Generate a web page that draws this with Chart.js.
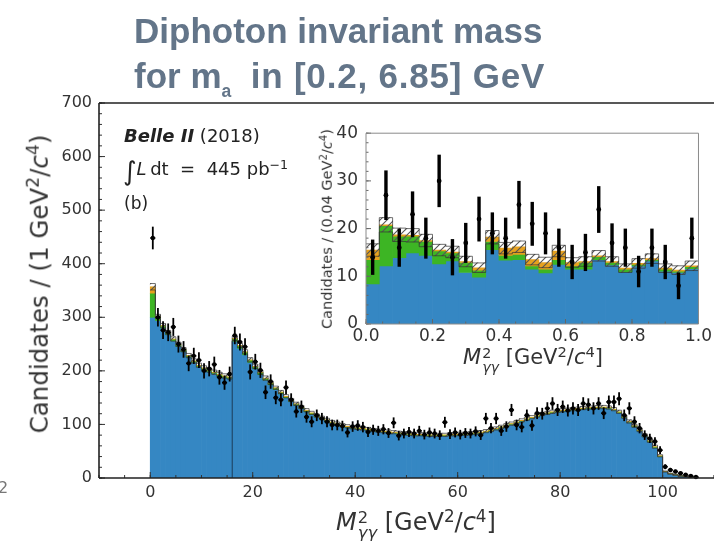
<!DOCTYPE html>
<html>
<head>
<meta charset="utf-8">
<script src="https://cdn.jsdelivr.net/npm/chart.js@4.4.1/dist/chart.umd.min.js"></script>
<style>
html,body{margin:0;padding:0;width:714px;height:542px;overflow:hidden;background:#fff;font-family:'DejaVu Sans',sans-serif;}
#wrap{position:relative;width:714px;height:542px;overflow:hidden;}
#main{position:absolute;left:0;top:0;}
#inset{position:absolute;left:310px;top:115px;}
.t{position:absolute;white-space:nowrap;color:#333;line-height:1;}
.t sup{font-size:0.7em;vertical-align:0.5em;line-height:0;}
.title{position:absolute;white-space:nowrap;font-family:'Liberation Sans',sans-serif;font-weight:bold;font-size:35px;line-height:1;color:#637589;}
.title sub{font-size:0.5em;vertical-align:-0.5em;line-height:0;}
.ss{display:inline-flex;flex-direction:column;font-size:0.68em;line-height:0.95;vertical-align:0.45em;margin-left:1px;text-align:left;}
</style>
</head>
<body>
<div id="wrap">
<canvas id="main" width="760" height="542"></canvas>
<canvas id="inset" width="404" height="265"></canvas>

<div class="title" style="left:134px;top:13px;">Diphoton invariant mass</div>
<div class="title" style="left:134px;top:58px;">for m<sub>a</sub>&nbsp; <span style="letter-spacing:0.8px;">in [0.2, 6.85] GeV</span></div>

<div class="t" style="left:124px;top:127px;font-size:18px;color:#222;"><b><i>Belle II</i></b> (2018)</div>
<div class="t" style="left:123px;top:158px;font-size:18px;color:#222;"><span style="font-size:26px;vertical-align:-5px;">∫</span><i>L</i>&thinsp;dt&nbsp; = &nbsp;445 pb<sup>−1</sup></div>
<div class="t" style="left:124px;top:195px;font-size:17px;color:#222;">(b)</div>

<div class="t" style="left:40px;top:284px;font-size:24.5px;transform:translate(-50%,-50%) rotate(-90deg);">Candidates / (1 GeV<sup>2</sup>/<i>c</i><sup>4</sup>)</div>
<div class="t" style="left:416px;top:510px;font-size:24px;transform:translateX(-50%);"><i>M</i><span class="ss"><span>2</span><span><i>γγ</i></span></span> [GeV<sup>2</sup>/<i>c</i><sup>4</sup>]</div>

<div class="t" style="left:327px;top:229px;font-size:14.5px;transform:translate(-50%,-50%) rotate(-90deg);">Candidates / (0.04 GeV<sup>2</sup>/<i>c</i><sup>4</sup>)</div>
<div class="t" style="left:533px;top:347px;font-size:21px;transform:translateX(-50%);"><i>M</i><span class="ss"><span>2</span><span><i>γγ</i></span></span> [GeV<sup>2</sup>/<i>c</i><sup>4</sup>]</div>

<div class="t" style="left:-2px;top:480px;font-size:16px;color:#777;">2</div>
</div>

<script>
// ---- main histogram, 1 GeV^2 bins starting at 0 ----
const mainBinWidth = 1;
const mainBlue = [
  300, 294, 280, 268, 256, 246, 236, 226, 216, 208,
  203, 199, 195, 191, 188, 186, 255, 242, 230, 216,
  204, 193, 183, 174, 165, 157, 150, 143, 136, 130,
  124, 119, 114, 110, 106, 103, 100, 97, 95, 93,
  92, 91, 90, 88, 87, 86, 85, 84, 83, 82,
  81, 80, 80, 80, 79, 79, 79, 79, 80, 80,
  81, 81, 82, 83, 84, 86, 88, 91, 94, 97,
  100, 103, 106, 109, 112, 115, 118, 120, 122, 124,
  125, 126, 127, 128, 129, 130, 130, 131, 131, 130,
  127, 122, 113, 104, 96, 88, 78, 68, 57, 40,
  12, 8, 6, 4, 3, 2, 1
];
const mainGreen = [
  45, 6, 4, 3, 3, 3, 3, 2, 2, 2,
  2, 2, 2, 2, 2, 2, 5, 5, 5, 4,
  4, 4, 3, 3, 3, 3, 2, 2, 2, 2,
  2, 2, 2, 2, 2, 1, 1, 1, 1, 1,
  1, 1, 1, 1, 1, 1, 1, 1, 1, 1,
  1, 1, 1, 1, 1, 1, 1, 1, 1, 1,
  1, 1, 1, 1, 1, 1, 1, 1, 1, 1,
  1, 1, 1, 1, 1, 1, 1, 1, 1, 1,
  1, 1, 1, 1, 1, 1, 1, 1, 1, 1,
  1, 1, 1, 1, 1, 1, 1, 1, 1, 1,
  0, 0, 0, 0, 0, 0, 0
];
const mainOrange = [
  12, 1.5, 0.5, 0.5, 0.5, 0.5, 0.5, 0.5, 0.5, 0.5,
  0.5, 0.5, 0.5, 0.5, 0.5, 0.5, 0.5, 0.5, 0.5, 0.5,
  0.5, 0.5, 0.5, 0.5, 0.5, 0.5, 0.5, 0.5, 0.5, 0.5,
  0.5, 0.5, 0.5, 0.5, 0.5, 0.5, 0.5, 0.5, 0.5, 0.5,
  0.5, 0.5, 0.5, 0.5, 0.5, 0.5, 0.5, 0.5, 0.5, 0.5,
  0.5, 0.5, 0.5, 0.5, 0.5, 0.5, 0.5, 0.5, 0.5, 0.5,
  0.5, 0.5, 0.5, 0.5, 0.5, 0.5, 0.5, 0.5, 0.5, 0.5,
  0.5, 0.5, 0.5, 0.5, 0.5, 0.5, 0.5, 0.5, 0.5, 0.5,
  0.5, 0.5, 0.5, 0.5, 0.5, 0.5, 0.5, 0.5, 0.5, 0.5,
  0.5, 0.5, 0.5, 0.5, 0.5, 0.5, 0.5, 0.5, 0.5, 0.5,
  0, 0, 0, 0, 0, 0, 0
];
const mainUnc = [
  6, 4, 4, 4, 4, 4, 4, 4, 4, 4,
  4, 4, 4, 4, 4, 4, 4, 4, 4, 4,
  4, 4, 4, 3, 3, 3, 3, 3, 3, 3,
  3, 3, 3, 3, 3, 3, 3, 3, 3, 3,
  3, 3, 3, 3, 3, 3, 3, 3, 3, 3,
  3, 3, 3, 3, 3, 3, 3, 3, 3, 3,
  3, 3, 3, 3, 3, 3, 3, 3, 3, 3,
  3, 3, 3, 3, 3, 3, 3, 3, 3, 3,
  3, 3, 3, 3, 3, 3, 3, 3, 3, 3,
  3, 3, 3, 3, 3, 3, 3, 3, 3, 2,
  1, 1, 1, 1, 0.5, 0.5, 0.5
];
const mainData = [
  448, 300, 276, 272, 282, 250, 240, 214, 228, 220,
  200, 204, 212, 188, 178, 194, 266, 254, 245, 198,
  217, 201, 160, 180, 150, 146, 169, 146, 124, 133,
  114, 105, 117, 111, 105, 99, 99, 97, 85, 96,
  98, 95, 86, 90, 88, 91, 84, 103, 79, 83,
  86, 83, 88, 81, 85, 83, 80, 104, 82, 85,
  81, 84, 83, 87, 80, 111, 93, 111, 88, 96,
  127, 99, 95, 117, 98, 121, 120, 130, 139, 127,
  133, 126, 130, 127, 139, 137, 130, 139, 121, 142,
  142, 148, 117, 130, 105, 93, 80, 74, 68, 52,
  21, 15, 12, 9, 6, 4, 2
];
const blueSplit = 16;                 // edge between the two blue pieces
const mainXTicks = [0, 20, 40, 60, 80, 100];
const mainYTicks = [0, 100, 200, 300, 400, 500, 600, 700];

// ---- inset, 0.04 GeV^2 bins from 0 to 1 ----
const insetBinWidth = 0.04;
const insetBlue   = [8.4, 12.2, 13.9, 14.9, 14.4, 12.6, 13.2, 10.8, 9.8, 15.6, 13.4, 13.5, 11.5, 10.7, 12.5, 11.5, 11.5, 13.5, 12.4, 10.9, 12.2, 13.2, 11.1, 10.8, 11.6];
const insetGreen  = [5.1, 8.4, 4.5, 3.5, 2.9, 2.7, 1.7, 2.1, 1.5, 1.7, 1.0, 1.1, 0.7, 0.8, 1.0, 0.7, 1.4, 0.6, 0.5, 0.6, 0.3, 0.3, 0.4, 0.3, 0.4];
const insetOrange = [2.0, 0.2, 0.3, 0.2, 0.2, 0.2, 0.2, 0.2, 0.5, 0.9, 1.5, 1.6, 1.3, 1.4, 1.8, 0.7, 0.2, 0.2, 0.2, 0.2, 0.2, 0.2, 0.2, 0.2, 0.2];
const insetUnc    = [1.3, 1.5, 1.4, 1.4, 1.3, 1.2, 1.2, 1.1, 1.0, 1.4, 1.2, 1.2, 1.1, 1.1, 1.2, 1.0, 1.0, 1.1, 1.0, 0.9, 1.0, 1.0, 0.9, 0.9, 1.0];
const insetData   = [14, 27, 16, 23, 18, 30, 14, 17, 22, 19, 18, 25, 21, 19, 16, 13, 15, 24, 17, 16, 11, 16, 13, 8, 18];
const insetErr    = [3.7, 5.2, 4.0, 4.8, 4.3, 5.5, 3.8, 4.2, 4.7, 4.4, 4.3, 5.0, 4.6, 4.4, 4.0, 3.6, 3.9, 4.9, 4.1, 4.0, 3.3, 4.0, 3.6, 2.8, 4.3];
const insetXTicks = [0, 0.2, 0.4, 0.6, 0.8, 1.0];
const insetYTicks = [0, 10, 20, 30, 40];

const BLUE = '#3587c3', GREEN = '#3db524', ORANGE = '#e6a11e';
const FONT = 'DejaVu Sans';

function hatch(color) {
  const s = 7, c = document.createElement('canvas');
  c.width = c.height = s;
  const g = c.getContext('2d');
  g.strokeStyle = color; g.lineWidth = 1.1;
  g.beginPath();
  g.moveTo(0, s); g.lineTo(s, 0);
  g.moveTo(-s, s); g.lineTo(s, -s);
  g.moveTo(0, 2 * s); g.lineTo(2 * s, 0);
  g.stroke();
  return g.createPattern(c, 'repeat');
}

// histogram values -> points at bin edges for a stepped outline
function steps(vals, w) {
  const pts = vals.map((v, i) => ({ x: i * w, y: v }));
  pts.push({ x: vals.length * w, y: vals[vals.length - 1] });
  return pts;
}
const add = (a, b) => a.map((v, i) => v + b[i]);

function histDatasets(blue, green, orange, unc, data, err, w, errStyle) {
  const s2 = add(blue, green), s3 = add(s2, orange);
  const hi = s3.map((v, i) => v + unc[i]), lo = s3.map((v, i) => Math.max(0, v - unc[i]));
  const mid = i => (i + 0.5) * w;
  const bar = (from, to, color, order) => ({
    type: 'bar', order: order, grouped: false, barPercentage: 1, categoryPercentage: 1,
    borderWidth: 0, backgroundColor: color,
    data: to.map((v, i) => ({ x: mid(i), y: [from ? from[i] : 0, v] }))
  });
  // 'before': each edge point keeps its own value until the next edge
  const outline = vals => ({ type: 'line', data: steps(vals, w), stepped: 'before', fill: false,
    pointRadius: 0, borderColor: '#333', borderWidth: 0.7, order: 4 });
  return [
    bar(null, blue, BLUE, 10),
    bar(blue, s2, GREEN, 9),
    bar(s2, s3, ORANGE, 8),
    bar(lo, hi, hatch('#555'), 7),
    outline(hi),
    outline(lo),
    { type: 'line', data: data.map((v, i) => ({ x: mid(i), y: v })), showLine: false, fill: false,
      pointRadius: 0, errs: err, errStyle: errStyle, order: 0 }
  ];
}

const errBars = {
  id: 'errBars',
  afterDatasetsDraw(chart) {
    const { ctx, scales: { x, y } } = chart;
    chart.data.datasets.forEach(ds => {
      if (!ds.errs) return;
      const st = ds.errStyle;
      ctx.save();
      ctx.strokeStyle = '#000';
      ctx.fillStyle = '#000';
      ds.data.forEach((p, i) => {
        const e = ds.errs[i], px = x.getPixelForValue(p.x), py = y.getPixelForValue(p.y);
        ctx.lineWidth = st.lw;
        ctx.beginPath();
        ctx.moveTo(px, y.getPixelForValue(Math.max(0, p.y - e)));
        ctx.lineTo(px, y.getPixelForValue(p.y + e));
        ctx.stroke();
        if (st.halfW) {
          ctx.lineWidth = st.hlw;
          ctx.beginPath();
          ctx.moveTo(x.getPixelForValue(p.x - st.halfW), py);
          ctx.lineTo(x.getPixelForValue(p.x + st.halfW), py);
          ctx.stroke();
        }
        ctx.beginPath(); ctx.arc(px, py, st.r, 0, Math.PI * 2); ctx.fill();
      });
      ctx.restore();
    });
  }
};

// frame, inward ticks, extra edge line
const frame = {
  id: 'frame',
  afterDraw(chart, args, o) {
    const { ctx, chartArea: a, scales: { x, y } } = chart;
    ctx.save();
    ctx.strokeStyle = o.tickColor;
    ctx.lineWidth = 1;
    const tickX = (v, len) => { const p = x.getPixelForValue(v); ctx.moveTo(p, a.bottom); ctx.lineTo(p, a.bottom - len); };
    const tickY = (v, len) => { const p = y.getPixelForValue(v); ctx.moveTo(a.left, p); ctx.lineTo(a.left + len, p); };
    ctx.beginPath();
    for (let v = Math.ceil(x.min / o.xMinor) * o.xMinor; v <= x.max + 1e-9; v += o.xMinor) tickX(v, o.minor);
    for (let v = 0; v <= y.max + 1e-9; v += o.yMinor) tickY(v, o.minor);
    x.ticks.forEach(t => tickX(t.value, o.major));
    y.ticks.forEach(t => tickY(t.value, o.major));
    ctx.stroke();
    if (o.vline) {
      ctx.strokeStyle = o.vline.color;
      ctx.beginPath();
      const px = x.getPixelForValue(o.vline.x);
      ctx.moveTo(px, y.getPixelForValue(0));
      ctx.lineTo(px, y.getPixelForValue(o.vline.top));
      ctx.stroke();
    }
    ctx.strokeStyle = o.color;
    ctx.lineWidth = o.width;
    ctx.beginPath();
    if (o.sides.includes('left'))   { ctx.moveTo(a.left, a.top); ctx.lineTo(a.left, a.bottom); }
    if (o.sides.includes('bottom')) { ctx.moveTo(a.left, a.bottom); ctx.lineTo(a.right, a.bottom); }
    if (o.sides.includes('top'))    { ctx.moveTo(a.left, a.top); ctx.lineTo(a.right, a.top); }
    if (o.sides.includes('right'))  { ctx.moveTo(a.right, a.top); ctx.lineTo(a.right, a.bottom); }
    ctx.stroke();
    ctx.restore();
  }
};

function axis(min, max, ticks, size, fontSize, pad, fmt) {
  return {
    type: 'linear', min: min, max: max, offset: false,
    afterBuildTicks(s) { s.ticks = ticks.map(v => ({ value: v })); },
    afterFit(s) { if (s.isHorizontal()) s.height = size; else s.width = size; },
    grid: { display: false, drawTicks: false, offset: false }, border: { display: false },
    ticks: { font: { family: FONT, size: fontSize }, color: '#333', padding: pad, maxRotation: 0, autoSkip: false,
             callback: fmt || (v => v) }
  };
}

const common = { responsive: false, animation: false, events: [] };

new Chart(document.getElementById('main'), {
  type: 'bar',
  data: { datasets: histDatasets(mainBlue, mainGreen, mainOrange, mainUnc, mainData,
          mainData.map(v => Math.sqrt(v)),            // Poisson errors of the counts
          mainBinWidth, { r: 2.2, lw: 1.8, hlw: 1.6, halfW: 0.5 }) },
  options: {
    ...common,
    layout: { padding: { top: 103, left: 0, right: 0, bottom: 0 } },
    scales: {
      x: axis(-10, 119, mainXTicks, 64, 16, 5),
      y: axis(0, 700, mainYTicks, 99, 16, 7)
    },
    plugins: {
      legend: { display: false }, tooltip: { enabled: false },
      frame: { sides: ['left', 'bottom', 'top'], color: '#222', width: 1.6, tickColor: '#333',
               major: 6, minor: 3, xMinor: 5, yMinor: 20,
               vline: { x: blueSplit, top: mainBlue[blueSplit], color: '#1c3d5a' } }
    }
  },
  plugins: [errBars, frame]
});

new Chart(document.getElementById('inset'), {
  type: 'bar',
  data: { datasets: histDatasets(insetBlue, insetGreen, insetOrange, insetUnc, insetData, insetErr,
          insetBinWidth, { r: 2.4, lw: 3.4, hlw: 0, halfW: 0 }) },
  options: {
    ...common,
    layout: { padding: { top: 15, left: 0, right: 12, bottom: 0 } },
    scales: {
      x: axis(0, 1, insetXTicks, 56, 17, 2, v => v.toFixed(1)),
      y: axis(0, 40, insetYTicks, 56, 17, 8)
    },
    plugins: {
      legend: { display: false }, tooltip: { enabled: false },
      frame: { sides: ['left', 'bottom', 'top', 'right'], color: '#8a8a8a', width: 1, tickColor: '#666',
               major: 5, minor: 2.5, xMinor: 0.05, yMinor: 2 }
    }
  },
  plugins: [errBars, frame]
});
</script>
</body>
</html>
